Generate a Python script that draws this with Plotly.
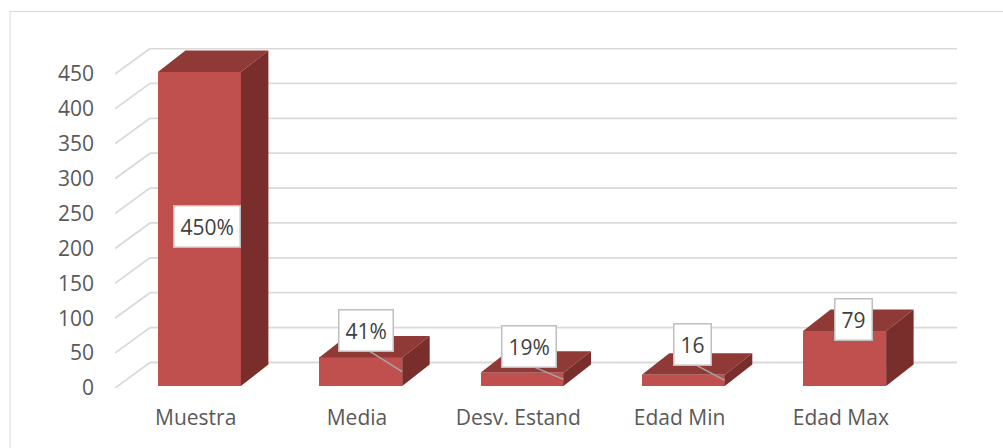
import plotly.graph_objects as go

# ---- data ----
categories = ["Muestra", "Media", "Desv. Estand", "Edad Min", "Edad Max"]
values = [450, 41, 19, 16, 79]
label_texts = ["450%", "41%", "19%", "16", "79"]
y_ticks = [0, 50, 100, 150, 200, 250, 300, 350, 400, 450]

# ---- layout constants (pixels) ----
W, H = 1003, 448
L, R, T, B = 115, 46, 48, 60
plot_w, plot_h = W - L - R, H - T - B
cat_px = 161.3            # pixels per category on the front plane
ypx = 314 / 450           # pixels per value unit
ux = 1 / cat_px           # x-units per pixel
uy = 1 / ypx              # y-units per pixel

wall_dx, wall_dy = 35 * ux, 25.5 * uy      # floor / wall depth
bar_dx, bar_dy = 27.5 * ux, 21.5 * uy      # bar depth
inset_x, inset_y = 3.75 * ux, 2 * uy       # bars centred in the depth
bw = 83 * ux                               # bar width

x_min = -0.5
x_max = x_min + plot_w * ux
y_max = plot_h * uy

FRONT = "#C0504D"
TOP = "#8F3A37"
SIDE = "#7A2E2C"
GRID = "#D9D9D9"
FONT = "Open Sans"

# label box offsets relative to anchor (px) and whether a leader line is drawn
label_dx = [-33.5, -36, -34.5, -32, -33]
label_dy = [2.5, 41, 33, 35.5, 38.5]
leader = [False, True, True, True, False]
box_half_h = 18.5

fig = go.Figure()
shapes = []

# gridlines: side wall diagonal + back wall horizontal
for v in y_ticks:
    shapes.append(dict(type="line", xref="x", yref="y", layer="below",
                       x0=x_min, y0=v, x1=x_min + wall_dx, y1=v + wall_dy,
                       line=dict(color=GRID, width=1.8)))
    shapes.append(dict(type="line", xref="x", yref="y", layer="below",
                       x0=x_min + wall_dx, y0=v + wall_dy, x1=x_max, y1=v + wall_dy,
                       line=dict(color=GRID, width=1.8)))

# outer chart border
shapes.append(dict(type="rect", xref="paper", yref="paper",
                   x0=(10 - L) / plot_w, x1=(W + 20 - L) / plot_w,
                   y0=-(B + 20) / plot_h,
                   y1=(H - B - 11.5) / plot_h,
                   line=dict(color=GRID, width=1), fillcolor="rgba(0,0,0,0)", layer="below"))

# front faces
xs = [i + inset_x for i in range(len(values))]
fig.add_trace(go.Bar(x=xs, y=values, base=[inset_y] * len(values), width=bw,
                     marker=dict(color=FRONT, line=dict(width=0)),
                     hoverinfo="skip", showlegend=False))

# top and side faces
for i, v in enumerate(values):
    x0 = i - bw / 2 + inset_x
    x1 = x0 + bw
    base = inset_y
    top = inset_y + v
    fig.add_trace(go.Scatter(
        x=[x0, x1, x1 + bar_dx, x0 + bar_dx, x0],
        y=[top, top, top + bar_dy, top + bar_dy, top],
        fill="toself", fillcolor=TOP, mode="lines", line=dict(width=0, color=TOP),
        hoverinfo="skip", showlegend=False))
    fig.add_trace(go.Scatter(
        x=[x1, x1, x1 + bar_dx, x1 + bar_dx, x1],
        y=[base, top, top + bar_dy, base + bar_dy, base],
        fill="toself", fillcolor=SIDE, mode="lines", line=dict(width=0, color=SIDE),
        hoverinfo="skip", showlegend=False))

# data labels
annotations = []
for i, v in enumerate(values):
    ax_ = i - bw / 2 + inset_x + bw
    ay_ = inset_y + v / 2
    if leader[i]:
        sx = ax_ + label_dx[i] * ux
        sy = ay_ + (label_dy[i] - box_half_h) * uy
        fig.add_trace(go.Scatter(x=[sx, ax_], y=[sy, ay_], mode="lines",
                                 line=dict(color="#A6A6A6", width=1.5),
                                 hoverinfo="skip", showlegend=False))
    annotations.append(dict(
        x=ax_, y=ay_, xref="x", yref="y", text=label_texts[i], showarrow=False,
        xshift=label_dx[i], yshift=label_dy[i],
        font=dict(family=FONT, size=21, color="#404040"),
        bgcolor="white", bordercolor="#BFBFBF", borderwidth=1.5, borderpad=6))

fig.update_layout(
    width=W, height=H,
    margin=dict(l=L, r=R, t=T, b=B, pad=0),
    paper_bgcolor="white", plot_bgcolor="rgba(0,0,0,0)",
    shapes=shapes, annotations=annotations,
    font=dict(family=FONT, size=21, color="#595959"),
    xaxis=dict(range=[x_min, x_max], tickvals=list(range(len(categories))),
               ticktext=categories, showgrid=False, zeroline=False, showline=False,
               ticks="", ticklabelstandoff=15, fixedrange=True),
    yaxis=dict(range=[0, y_max], tickvals=y_ticks, showgrid=False, zeroline=False,
               showline=False, ticks="", ticklabelstandoff=20, fixedrange=True),
    bargap=0,
)

fig.write_html("out.html")
